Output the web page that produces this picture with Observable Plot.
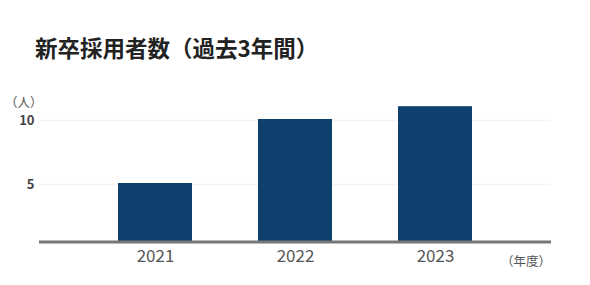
<!DOCTYPE html>
<html><head><meta charset="utf-8">
<script src="https://cdn.jsdelivr.net/npm/d3@7"></script>
<script src="https://cdn.jsdelivr.net/npm/@observablehq/plot@0.6"></script>
<style>
body{margin:0;background:#fff;font-family:"Noto Sans CJK JP","Noto Sans",sans-serif;}
#wrap{position:relative;width:590px;height:285px;overflow:hidden}
#chart{position:absolute;left:0;top:0}
#title{position:absolute;left:35px;top:33px;font-size:22.5px;font-weight:700;color:#222;line-height:28px;white-space:nowrap}
.unit{position:absolute;font-size:12.5px;color:#555;line-height:16px;white-space:nowrap}
</style></head><body>
<div id="wrap">
<div id="chart"></div>
<div id="title">新卒採用者数（過去3年間）</div>
<div class="unit" style="left:5px;top:94px">（人）</div>
<div class="unit" style="left:501px;top:253px">（年度）</div>
</div>
<script>
const years = ["2021", "2022", "2023"];
const hires = [5, 10, 11];
const yTicks = [5, 10];
const data = years.map((y, i) => ({year: y, value: hires[i]}));

const chart = Plot.plot({
  width: 590,
  height: 285,
  marginTop: 95,
  marginBottom: 44,
  marginLeft: 39,
  marginRight: 39,
  style: {fontFamily: '"Noto Sans CJK JP","Noto Sans",sans-serif', background: "transparent"},
  x: {domain: years, range: [117, 473], paddingInner: 0.475, paddingOuter: 0, axis: null},
  y: {domain: [0, 10], range: [248, 120], axis: null},
  marks: [
    Plot.ruleY(yTicks, {stroke: "#f3f3f3", strokeWidth: 1.5}),
    Plot.barY(data, {x: "year", y: "value", fill: "#0f406d", clip: true, dy: -1}),
    Plot.ruleY([0], {dy: -6.5, stroke: "#777", strokeWidth: 3}),
    Plot.axisX({tickSize: 0, tickPadding: 8, fontSize: 17, fill: "#555", label: null}),
    Plot.axisY(yTicks, {tickSize: 0, tickPadding: 5, fontSize: 13, fontWeight: 700, fill: "#444", label: null})
  ]
});
document.getElementById("chart").appendChild(chart);
</script>
</body></html>
